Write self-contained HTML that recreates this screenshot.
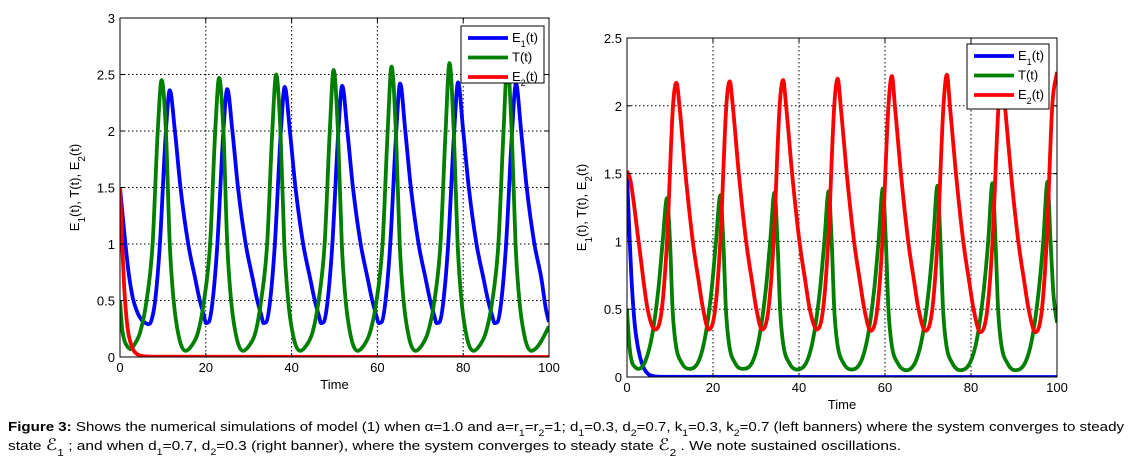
<!DOCTYPE html>
<html><head><meta charset="utf-8"><style>
html,body{margin:0;padding:0;background:#fff;}
svg{display:block;font-family:"Liberation Sans",Arial,sans-serif;}
</style></head><body>
<svg id="fig" width="1130" height="464" viewBox="0 0 1130 464">
<g id="left"></g>
<g id="right"></g>
<g font-size="13" fill="#000">
<text x="8" y="431" textLength="1116" lengthAdjust="spacingAndGlyphs"><tspan font-weight="bold">Figure 3:</tspan> Shows the numerical simulations of model (1) when α=1.0 and a=r<tspan baseline-shift="sub" font-size="9">1</tspan>=r<tspan baseline-shift="sub" font-size="9">2</tspan>=1; d<tspan baseline-shift="sub" font-size="9">1</tspan>=0.3, d<tspan baseline-shift="sub" font-size="9">2</tspan>=0.7, k<tspan baseline-shift="sub" font-size="9">1</tspan>=0.3, k<tspan baseline-shift="sub" font-size="9">2</tspan>=0.7 (left banners) where the system converges to steady</text>
<text x="8" y="450" textLength="893" lengthAdjust="spacingAndGlyphs">state  <tspan font-size="16">ℰ</tspan><tspan baseline-shift="sub" font-size="10">1</tspan> ; and when d<tspan baseline-shift="sub" font-size="9">1</tspan>=0.7, d<tspan baseline-shift="sub" font-size="9">2</tspan>=0.3 (right banner), where the system converges to steady state  <tspan font-size="16">ℰ</tspan><tspan baseline-shift="sub" font-size="10">2</tspan> . We note sustained oscillations.</text>
</g>
</svg>
<script>
// ---------- LEFT chart data ----------
const L_E1_t=[0,1,2,3,4,5,6.0,6.65,7.3, 8.2,9.3,10.7,11.6,12.8,14.1,15.9,17.5,18.6,19.6,20.05,20.7, 21.6,22.7,24.1,25.0,26.2,27.5,29.3,30.9,32.0,33.0,33.45,34.1, 35.0,36.1,37.5,38.4,39.6,40.9,42.7,44.3,45.4,46.4,46.85,47.5, 48.4,49.5,50.9,51.8,53.0,54.3,56.1,57.7,58.8,59.8,60.3,61.0, 61.9,63.0,64.4,65.3,66.5,67.8,69.6,71.2,72.3,73.3,73.8,74.5, 75.4,76.5,77.9,78.8,80.0,81.3,83.1,84.7,85.8,86.8,87.3,88.0, 88.9,90.0,91.4,92.3,93.5,94.8,96.6,98.2,99.3,100];
const L_E1_v=[1.5,1.1,0.75,0.52,0.4,0.33,0.3,0.29,0.32, 0.5,1,2,2.36,2,1.5,1,0.7,0.5,0.36,0.3,0.31, 0.5,1,2,2.37,2,1.5,1,0.7,0.5,0.36,0.3,0.31, 0.5,1,2,2.39,2,1.5,1,0.7,0.5,0.36,0.3,0.31, 0.5,1,2,2.4,2,1.5,1,0.7,0.5,0.36,0.3,0.31, 0.5,1,2,2.42,2,1.5,1,0.7,0.5,0.36,0.3,0.31, 0.5,1,2,2.43,2,1.5,1,0.7,0.5,0.36,0.3,0.31, 0.5,1,2,2.42,2,1.5,1,0.7,0.42,0.31];
const L_T_t=[0,0.5,1,2,2.5,3.2,4.7, 6.2,7.6,8.8,9.7,10.7,11.6,12.5,13.9,15.3,16.7,18.2, 19.6,21.0,22.2,23.1,24.1,25.0,25.9,27.3,28.7,30.1,31.6, 32.9,34.3,35.5,36.4,37.4,38.3,39.2,40.6,42.0,43.4,44.9, 46.3,47.7,48.9,49.8,50.8,51.7,52.6,54.0,55.4,56.8,58.3, 59.8,61.2,62.4,63.3,64.3,65.2,66.1,67.5,68.9,70.3,71.8, 73.3,74.7,75.9,76.8,77.8,78.7,79.6,81.0,82.4,83.8,85.3, 86.8,88.2,89.4,90.3,91.3,92.2,93.1,94.5,95.9,97.5,100];
const L_T_v=[0.5,0.25,0.15,0.08,0.07,0.1,0.22, 0.5,1,2,2.45,2,1,0.5,0.15,0.055,0.1,0.22, 0.5,1,2,2.47,2,1,0.5,0.15,0.055,0.1,0.22, 0.5,1,2,2.5,2,1,0.5,0.15,0.055,0.1,0.22, 0.5,1,2,2.54,2,1,0.5,0.15,0.055,0.1,0.22, 0.5,1,2,2.57,2,1,0.5,0.15,0.055,0.1,0.22, 0.5,1,2,2.6,2,1,0.5,0.15,0.055,0.1,0.22, 0.5,1,2,2.6,2,1,0.5,0.15,0.055,0.1,0.27];
const L_E2_t=[0,0.5,1,1.5,2,3,4,5,7,100];
const L_E2_v=[1.5,1.0,0.6,0.35,0.2,0.07,0.025,0.01,0.003,0];
const L_yTicks=[0,0.5,1,1.5,2,2.5,3];
const L_yLabels=["0","0.5","1","1.5","2","2.5","3"];
// ---------- RIGHT chart data ----------
const R_E1_t=[0,0.5,1,1.5,2,3,4,5,6,8,100];
const R_E1_v=[1.5,1.1,0.75,0.5,0.33,0.15,0.06,0.02,0.008,0.002,0];
const R_T_t=[0,0.5,1,2,2.7, 4.3,5.8,7.3,8.3,9.3,10.0,10.6,11.3,12.8, 14.5, 16.7,18.2,19.7,20.7,21.7,22.4,23.0,23.7,25.2, 27.0, 29.3,30.8,32.3,33.3,34.3,35.0,35.6,36.3,37.8, 39.5, 41.9,43.4,44.9,45.9,46.9,47.6,48.2,48.9,50.4, 52.2, 54.5,56.0,57.5,58.5,59.5,60.2,60.8,61.5,63.0, 65.0, 67.2,68.7,70.2,71.2,72.2,72.9,73.5,74.2,75.7, 77.5, 80.0,81.5,83.0,84.0,85.0,85.7,86.3,87.0,88.5, 90.3, 92.8,94.3,95.8,96.8,97.8,98.5,99.2,100];
const R_T_v=[0.5,0.25,0.13,0.07,0.06, 0.12,0.3,0.65,1,1.32,1,0.5,0.25,0.1, 0.06, 0.12,0.3,0.65,1,1.34,1,0.5,0.25,0.1, 0.06, 0.12,0.3,0.65,1,1.36,1,0.5,0.25,0.1, 0.055, 0.12,0.3,0.65,1,1.37,1,0.5,0.25,0.1, 0.055, 0.12,0.3,0.65,1,1.39,1,0.5,0.25,0.1, 0.05, 0.12,0.3,0.65,1,1.41,1,0.5,0.25,0.1, 0.05, 0.12,0.3,0.65,1,1.43,1,0.5,0.25,0.1, 0.05, 0.12,0.3,0.65,1,1.44,1,0.6,0.4];
const R_E2_t=[0,0.8,2.7,4.8,6.6, 8.1,9.3,10.7,11.5,12.2,13.6,15.3,16.7,17.7,19.0, 20.5,21.7,23.1,23.9,24.6,26.0,27.7,29.1,30.1,31.4, 32.9,34.1,35.5,36.3,37.0,38.4,40.1,41.5,42.5,44.2, 45.6,46.8,48.2,49.0,49.7,51.1,52.8,54.2,55.2,56.7, 58.2,59.4,60.8,61.6,62.3,63.7,65.4,66.8,67.8,69.4, 71.0,72.2,73.6,74.4,75.1,76.5,78.2,79.6,80.6,82.2, 83.8,85.0,86.4,87.2,87.9,89.3,91.0,92.4,93.4,95.0, 96.5,97.6,98.9,100];
const R_E2_v=[1.52,1.45,1.0,0.5,0.35, 0.5,1,2,2.17,2,1.5,1,0.7,0.5,0.35, 0.5,1,2,2.18,2,1.5,1,0.7,0.5,0.35, 0.5,1,2,2.19,2,1.5,1,0.7,0.5,0.35, 0.5,1,2,2.2,2,1.5,1,0.7,0.5,0.34, 0.5,1,2,2.22,2,1.5,1,0.7,0.5,0.34, 0.5,1,2,2.23,2,1.5,1,0.7,0.5,0.33, 0.5,1,2,2.23,2,1.5,1,0.7,0.5,0.33, 0.5,1,2,2.25];
const R_yTicks=[0,0.5,1,1.5,2,2.5];
const R_yLabels=["0","0.5","1","1.5","2","2.5"];
const xTicks=[0,20,40,60,80,100];
const xLabels=["0","20","40","60","80","100"];

const NS="http://www.w3.org/2000/svg";
function mk(parent,tag,attrs,text){const e=document.createElementNS(NS,tag);for(const k in attrs)e.setAttribute(k,attrs[k]);if(text!==undefined)e.textContent=text;parent.appendChild(e);return e;}
function monoPath(xs,ys){
  const n=xs.length;const d=[],m=[];
  for(let i=0;i<n-1;i++)d.push((ys[i+1]-ys[i])/(xs[i+1]-xs[i]));
  m[0]=d[0];m[n-1]=d[n-2];
  for(let i=1;i<n-1;i++){ if(d[i-1]*d[i]<=0)m[i]=0; else m[i]=(d[i-1]+d[i])/2; }
  for(let i=0;i<n-1;i++){ if(d[i]===0){m[i]=0;m[i+1]=0;continue;} const a=m[i]/d[i],b=m[i+1]/d[i];const s=a*a+b*b; if(s>9){const t=3/Math.sqrt(s);m[i]=t*a*d[i];m[i+1]=t*b*d[i];} }
  let p="M"+xs[0].toFixed(2)+","+ys[0].toFixed(2);
  for(let i=0;i<n-1;i++){const h=(xs[i+1]-xs[i])/3;
    p+=" C"+(xs[i]+h).toFixed(2)+","+(ys[i]+m[i]*h).toFixed(2)+" "+(xs[i+1]-h).toFixed(2)+","+(ys[i+1]-m[i+1]*h).toFixed(2)+" "+xs[i+1].toFixed(2)+","+ys[i+1].toFixed(2);}
  return p;
}
function chart(g,box,ymax,yTicks,yLabels,series,legBox,id){
  const X=t=>box.x0+(t/100)*(box.x1-box.x0);
  const Y=v=>box.y1-(v/ymax)*(box.y1-box.y0);
  xTicks.forEach((t,i)=>{ if(i>0&&i<xTicks.length-1){const l=mk(g,"line",{x1:X(t),x2:X(t),y1:box.y0,y2:box.y1,stroke:"#000","stroke-width":1,"stroke-dasharray":"1.5,2.5"});

}});
  yTicks.forEach((v,i)=>{ if(i>0&&i<yTicks.length-1){const l=mk(g,"line",{x1:box.x0,x2:box.x1,y1:Y(v),y2:Y(v),stroke:"#000","stroke-width":1,"stroke-dasharray":"1.5,2.5"});

}});
  const sg=mk(g,"g",{"clip-path":"url(#clip"+id+")"});
  
  
  const defs=mk(g,"defs",{});const cp=mk(defs,"clipPath",{id:"clip"+id});mk(cp,"rect",{x:box.x0,y:box.y0-3,width:box.x1-box.x0,height:box.y1-box.y0+3});
  series.forEach(s=>{const p=mk(sg,"path",{d:monoPath(s.t.map(X),s.v.map(Y)),fill:"none",stroke:s.c,"stroke-width":3.8,"stroke-linejoin":"round"});

});
  const fr=mk(g,"rect",{x:box.x0,y:box.y0,width:box.x1-box.x0,height:box.y1-box.y0,fill:"none",stroke:"#000","stroke-width":1});
  
  
  xTicks.forEach((t,i)=>{mk(g,"line",{x1:X(t),x2:X(t),y1:box.y1,y2:box.y1-4,stroke:"#000"});mk(g,"line",{x1:X(t),x2:X(t),y1:box.y0,y2:box.y0+4,stroke:"#000"});
    const tx=mk(g,"text",{x:X(t),y:box.y1+15,"text-anchor":"middle","font-size":13},xLabels[i]);

});
  yTicks.forEach((v,i)=>{mk(g,"line",{x1:box.x0,x2:box.x0+4,y1:Y(v),y2:Y(v),stroke:"#000"});mk(g,"line",{x1:box.x1,x2:box.x1-4,y1:Y(v),y2:Y(v),stroke:"#000"});
    const tx=mk(g,"text",{x:box.x0-5,y:Y(v)+5,"text-anchor":"end","font-size":13},yLabels[i]);

});
  const xt=mk(g,"text",{x:(box.x0+box.x1)/2,y:box.y1+32,"text-anchor":"middle","font-size":13},"Time");
  
  
  const cy=(box.y0+box.y1)/2;
  const yt=mk(g,"text",{x:0,y:0,"text-anchor":"middle","font-size":13,transform:"translate("+(box.x0-41)+","+cy+") rotate(-90)"});
  yt.innerHTML='E<tspan baseline-shift="sub" font-size="10">1</tspan>(t), T(t), E<tspan baseline-shift="sub" font-size="10">2</tspan>(t)';
  
  
  const lg=mk(g,"g",{});
  
  
  mk(lg,"rect",{x:legBox.x,y:legBox.y,width:legBox.w,height:legBox.h,fill:"#fff",stroke:"#000"});
  const labs=['E<tspan baseline-shift="sub" font-size="9">1</tspan>(t)','T(t)','E<tspan baseline-shift="sub" font-size="9">2</tspan>(t)'];
  const cols=["#0000ff","#007f00","#ff0000"];
  for(let i=0;i<3;i++){const yy=legBox.y+12+i*legBox.step;
    const e=mk(lg,"g",{});
    
    
    mk(e,"line",{x1:legBox.x+7,x2:legBox.x+47,y1:yy,y2:yy,stroke:cols[i],"stroke-width":3.8});
    const t=mk(e,"text",{x:legBox.x+51,y:yy+4,"font-size":13});t.innerHTML=labs[i];}
}
chart(document.getElementById("left"),{x0:120,x1:549,y0:18,y1:357},3,L_yTicks,L_yLabels,
 [{t:L_E1_t,v:L_E1_v,c:"#0000ff",name:"line-e1"},{t:L_T_t,v:L_T_v,c:"#007f00",name:"line-t"},{t:L_E2_t,v:L_E2_v,c:"#ff0000",name:"line-e2"}],
 {x:461,y:26,w:83,h:57,step:19.5},"L");
chart(document.getElementById("right"),{x0:627,x1:1057,y0:38,y1:377},2.5,R_yTicks,R_yLabels,
 [{t:R_E1_t,v:R_E1_v,c:"#0000ff",name:"line-e1"},{t:R_T_t,v:R_T_v,c:"#007f00",name:"line-t"},{t:R_E2_t,v:R_E2_v,c:"#ff0000",name:"line-e2"}],
 {x:967,y:44,w:82,h:65,step:19.5},"R");
</script>
</body></html>
